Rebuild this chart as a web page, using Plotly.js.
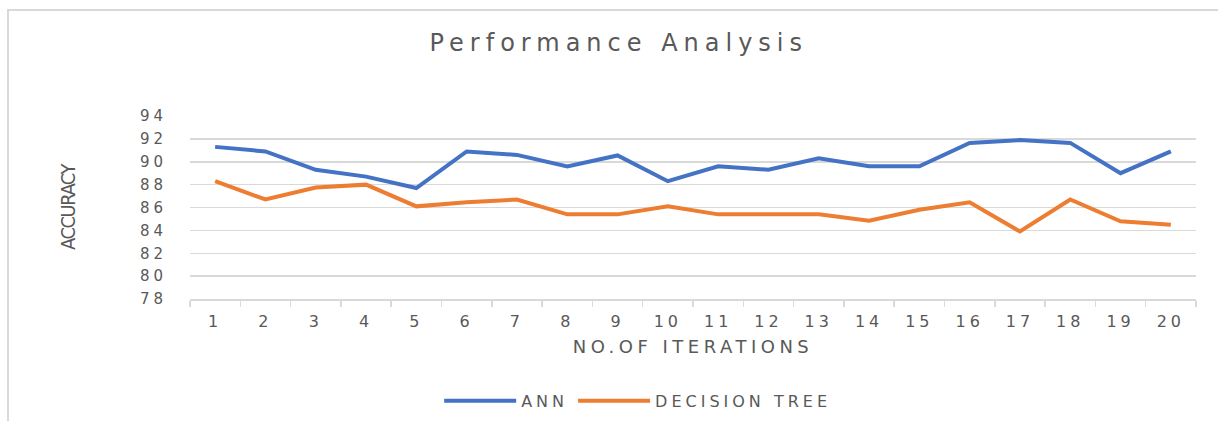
<!DOCTYPE html>
<html>
<head>
<meta charset="utf-8">
<script src="https://cdn.plot.ly/plotly-3.0.1.min.js"></script>
<style>
  html, body { margin: 0; padding: 0; background: #ffffff; }
  #wrap { position: relative; width: 1218px; height: 421px; overflow: hidden; }
  #frame { position: absolute; left: 7px; top: 9px; width: 1300px; height: 500px;
           border-left: 2px solid #d9d9d9; border-top: 2px solid #d9d9d9; pointer-events: none; z-index: 2; }
  #chart { position: absolute; left: 0; top: 0; width: 1218px; height: 421px; }
  .gtitle { letter-spacing: 6px; }
  #chart .xtick text { letter-spacing: 4px; }
  #chart .ytick text { letter-spacing: 4px; }
  .xtitle { letter-spacing: 4.5px; }
  .ytitle { letter-spacing: -1.5px; }
  .legendtext { letter-spacing: 4px; }
</style>
</head>
<body>
<div id="wrap">
  <div id="chart"></div>
  <div id="frame"></div>
</div>
<script>
// ---- data ----
const iterations = ["1","2","3","4","5","6","7","8","9","10","11","12","13","14","15","16","17","18","19","20"];
const annAccuracy = [91.3, 90.9, 89.3, 88.7, 87.7, 90.9, 90.6, 89.6, 90.55, 88.3, 89.6, 89.3, 90.3, 89.6, 89.6, 91.65, 91.9, 91.65, 89.0, 90.9];
const dtAccuracy  = [88.3, 86.7, 87.75, 88.0, 86.1, 86.45, 86.7, 85.4, 85.4, 86.1, 85.4, 85.4, 85.4, 84.85, 85.8, 86.45, 83.9, 86.7, 84.8, 84.5];
const yTickValues = [78, 80, 82, 84, 86, 88, 90, 92, 94];
const seriesNames = ["ANN", "DECISION TREE"];
const chartTitle = "Performance Analysis";
const xTitle = "NO.OF ITERATIONS";
const yTitle = "ACCURACY";

const textGray = "#595959";
const gridGray = "#d9d9d9";

const traces = [
  { x: iterations, y: annAccuracy, name: seriesNames[0], type: "scatter", mode: "lines",
    line: { color: "#4472C4", width: 4 } },
  { x: iterations, y: dtAccuracy, name: seriesNames[1], type: "scatter", mode: "lines",
    line: { color: "#ED7D31", width: 4 } }
];

const layout = {
  width: 1218, height: 421,
  margin: { l: 190, r: 22, t: 116, b: 122, autoexpand: false },
  paper_bgcolor: "rgba(0,0,0,0)",
  plot_bgcolor: "#ffffff",
  font: { family: "DejaVu Sans, sans-serif", color: textGray },
  title: { text: chartTitle, x: 0.508, xanchor: "center", xref: "container",
           y: 0.898, yanchor: "middle", yref: "container",
           font: { family: "DejaVu Sans, sans-serif", size: 24, color: textGray } },
  xaxis: {
    type: "category",
    range: [-0.5, iterations.length - 0.5],
    tickson: "boundaries",
    ticks: "outside", ticklen: 6, tickcolor: gridGray, tickwidth: 1.5,
    showline: true, linecolor: gridGray, linewidth: 1.5,
    showgrid: false, zeroline: false,
    tickfont: { family: "DejaVu Sans, sans-serif", size: 16, color: textGray },
    ticklabelstandoff: 7,
    title: { text: xTitle, standoff: 10,
             font: { family: "DejaVu Sans, sans-serif", size: 18, color: textGray } },
    fixedrange: true
  },
  yaxis: {
    range: [78, 94],
    tickvals: yTickValues,
    ticktext: yTickValues.map(String),
    showgrid: true, gridcolor: gridGray, gridwidth: 1.5,
    zeroline: false, showline: false, ticks: "",
    tickfont: { family: "DejaVu Sans, sans-serif", size: 15, color: textGray },
    ticklabelstandoff: 22,
    title: { text: yTitle, standoff: 66,
             font: { family: "Liberation Sans Narrow, DejaVu Sans Condensed, sans-serif", size: 20, color: textGray } },
    fixedrange: true
  },
  showlegend: true,
  legend: { orientation: "h", x: 0.445, xanchor: "center", y: -0.557, yanchor: "middle",
            font: { family: "DejaVu Sans, sans-serif", size: 16, color: textGray },
            bgcolor: "rgba(0,0,0,0)", itemwidth: 72 }
};

Plotly.newPlot("chart", traces, layout, { displayModeBar: false, staticPlot: true });
</script>
</body>
</html>
